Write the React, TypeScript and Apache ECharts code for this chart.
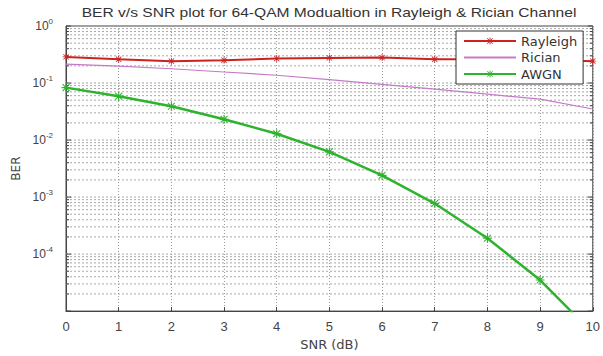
import React, { useEffect, useRef } from "react";
import * as echarts from "echarts";

// SNR sweep in dB
const snrDb = [0, 1, 2, 3, 4, 5, 6, 7, 8, 9, 10];

// Simulated bit error rates for 64-QAM
const rayleighBer = [0.287, 0.261, 0.242, 0.251, 0.268, 0.276, 0.279, 0.261, 0.26, 0.255, 0.242];
const ricianBer = [0.215, 0.198, 0.178, 0.156, 0.137, 0.115, 0.095, 0.078, 0.064, 0.052, 0.035];
const awgnBer = [0.083, 0.0586, 0.039, 0.0232, 0.0129, 0.0062, 0.0024, 7.7e-4, 1.9e-4, 3.5e-5, 4.1e-6];

// Log axis decades and the mantissas used for the grid lines
const decades = [-5, -4, -3, -2, -1];
const mantissas = [1, 2, 3, 4, 5, 6, 7, 8, 9];

const TITLE = "BER v/s SNR plot for 64-QAM Modualtion in Rayleigh & Rician Channel";

const WIDE = "'DejaVu Sans', Verdana, sans-serif";
const NARROW = "'Liberation Sans', Arial, Helvetica, sans-serif";

// MATLAB-style asterisk marker
const ASTERISK =
  "path://M4.4,0H5.6V10H4.4Z M0,4.4H10V5.6H0Z M0.8,1.6L1.6,0.8L9.2,8.4L8.4,9.2Z M8.4,0.8L9.2,1.6L1.6,9.2L0.8,8.4Z";

const gridValues: number[] = [];
decades.forEach((d) => mantissas.forEach((m) => gridValues.push(m * Math.pow(10, d))));
gridValues.push(1);

export default function App() {
  const ref = useRef<HTMLDivElement>(null);

  useEffect(() => {
    if (!ref.current) return;
    const chart = echarts.init(ref.current, null, { renderer: "svg" });

    const pair = (ys: number[]) => snrDb.map((x, i) => [x, ys[i]]);

    chart.setOption({
      animation: false,
      backgroundColor: "#ffffff",
      textStyle: { fontFamily: NARROW },
      graphic: [
        {
          // title, widened horizontally like the exported figure
          type: "text",
          x: 329,
          y: 13,
          scaleX: 1.3,
          style: {
            text: TITLE,
            fontSize: 12,
            fontFamily: NARROW,
            fill: "#333",
            textAlign: "center",
            textVerticalAlign: "middle",
          },
        },
      ],
      grid: {
        left: 66,
        right: 9,
        top: 26,
        bottom: 35,
        show: true,
        borderColor: "#444",
        borderWidth: 1,
      },
      legend: {
        orient: "vertical",
        left: 456,
        top: 31,
        padding: [2.5, 6, 2.5, 7],
        itemWidth: 52,
        itemHeight: 9,
        itemGap: 1.5,
        backgroundColor: "#ffffff",
        borderColor: "#333",
        borderWidth: 1,
        borderRadius: 0,
        data: [
          { name: "Rayleigh" },
          { name: "Rician", itemStyle: { opacity: 0 } },
          { name: "AWGN" },
        ],
        textStyle: { fontSize: 13, color: "#333", fontFamily: WIDE, lineHeight: 15 },
      },
      xAxis: {
        type: "value",
        min: 0,
        max: 10,
        interval: 1,
        name: "SNR (dB)",
        nameLocation: "middle",
        nameGap: 26,
        nameTextStyle: { fontSize: 13, color: "#444", fontFamily: WIDE },
        axisLine: { show: true, lineStyle: { color: "#444" } },
        axisTick: { show: true, inside: true, length: 4, lineStyle: { color: "#444" } },
        axisLabel: { fontSize: 13, color: "#444", margin: 9, fontFamily: NARROW },
        splitLine: { show: true, lineStyle: { type: [1, 2], color: "#999", width: 1 } },
      },
      yAxis: {
        type: "log",
        logBase: 10,
        min: 1e-5,
        max: 1,
        name: "BER",
        nameLocation: "middle",
        nameGap: 44,
        nameTextStyle: { fontSize: 12, color: "#444", fontFamily: WIDE },
        axisLine: { show: true, lineStyle: { color: "#444" } },
        axisTick: { show: false },
        splitLine: { show: false },
        axisLabel: {
          margin: 13,
          color: "#444",
          formatter: (v: number) => {
            const e = Math.round(Math.log10(v));
            if (e === -5) return "";
            return `{b|10}{s|${e}}`;
          },
          rich: {
            b: { fontSize: 12, color: "#444", fontFamily: NARROW },
            s: { fontSize: 8, color: "#444", fontFamily: NARROW, padding: [0, 0, 9, 0] },
          },
        },
      },
      series: [
        {
          // dotted log grid lines and inner minor ticks on both sides
          type: "custom",
          silent: true,
          z: 1,
          data: gridValues.map((v) => [0, v]),
          renderItem: (params: any, api: any) => {
            const v = api.value(1);
            const cs = params.coordSys;
            const y = api.coord([0, v])[1];
            const x0 = cs.x;
            const x1 = cs.x + cs.width;
            const major = Math.abs(Math.log10(v) - Math.round(Math.log10(v))) < 1e-9;
            const tl = major ? 5 : 3;
            const children: any[] = [];
            if (v > 1e-5 && v < 1) {
              children.push({
                type: "line",
                shape: { x1: x0, y1: y, x2: x1, y2: y },
                style: { stroke: "#a8a8a8", lineWidth: 1, lineDash: [2, 2] },
              });
            }
            children.push({
              type: "line",
              shape: { x1: x0, y1: y, x2: x0 + tl, y2: y },
              style: { stroke: "#444", lineWidth: 1 },
            });
            children.push({
              type: "line",
              shape: { x1: x1, y1: y, x2: x1 - tl, y2: y },
              style: { stroke: "#444", lineWidth: 1 },
            });
            return { type: "group", children };
          },
        },
        {
          name: "Rayleigh",
          type: "line",
          z: 3,
          data: pair(rayleighBer),
          symbol: ASTERISK,
          symbolSize: 7,
          showAllSymbol: true,
          lineStyle: { color: "#cc2222", width: 2 },
          itemStyle: { color: "#cc2222" },
        },
        {
          name: "Rician",
          type: "line",
          z: 3,
          data: pair(ricianBer),
          symbol: "none",
          lineStyle: { color: "#c57ac8", width: 1.2 },
          itemStyle: { color: "#c57ac8" },
        },
        {
          name: "AWGN",
          type: "line",
          z: 3,
          data: pair(awgnBer),
          symbol: ASTERISK,
          symbolSize: 9,
          showAllSymbol: true,
          clip: true,
          lineStyle: { color: "#2db32d", width: 2.5 },
          itemStyle: { color: "#2db32d" },
        },
      ],
    });

    return () => chart.dispose();
  }, []);

  return (
    <div
      ref={ref}
      style={{ position: "fixed", left: 0, top: 0, width: 603, height: 356, background: "#fff" }}
    />
  );
}
